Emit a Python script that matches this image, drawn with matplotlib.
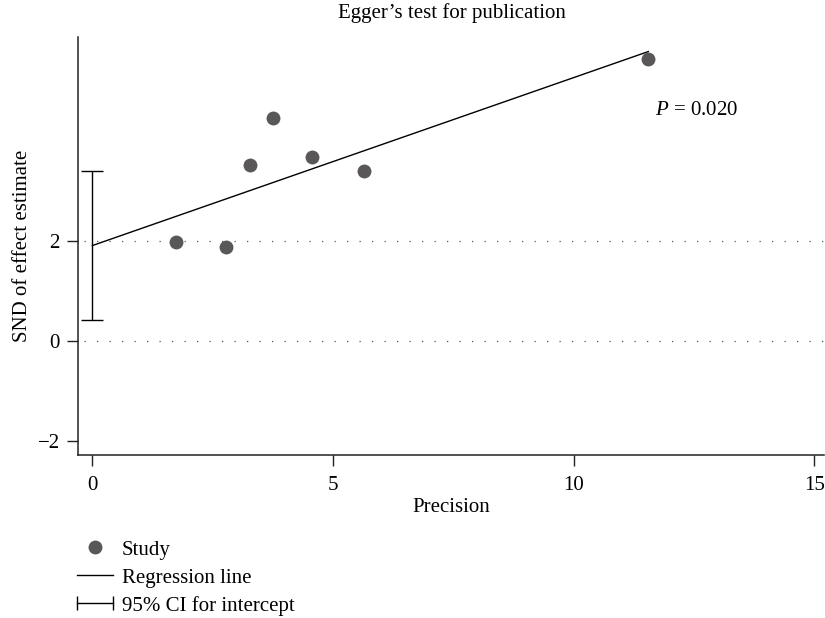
import numpy as np
import matplotlib
matplotlib.use("Agg")
import matplotlib.pyplot as plt
from matplotlib.lines import Line2D
from matplotlib.legend_handler import HandlerLine2D

plt.rcParams['font.family'] = ['Liberation Serif', 'DejaVu Serif']
plt.rcParams['mathtext.fontset'] = 'custom'
plt.rcParams['mathtext.it'] = 'Liberation Serif:italic'
plt.rcParams['mathtext.rm'] = 'Liberation Serif'

# Data
precision = [1.73, 2.77, 3.28, 3.75, 4.57, 5.65, 11.55]
snd = [1.99, 1.88, 3.53, 4.47, 3.69, 3.41, 5.65]
ci_low, ci_high = 0.43, 3.40
p_text = "0.020"
xticks = [0, 5, 10, 15]
yticks = [-2, 0, 2]

fig = plt.figure(figsize=(8.25, 6.18), dpi=100)
ax = fig.add_axes([78/825, 1-455/618, (824-78)/825, (455-37)/618])

x = np.array(precision)
y = np.array(snd)
slope, intercept = np.polyfit(x, y, 1)

dot_col = '#5a5758'
fs = 15

# reference lines
for yy in [0, 2]:
    ax.axhline(yy, color='#555555', lw=0.9, linestyle=(5.2, (1, 9)), zorder=1)

# regression line from 0 to max precision
xl = np.array([0, x.max()])
ax.plot(xl, intercept + slope * xl, color='black', lw=1.0, zorder=2)

# CI for intercept
mid = (ci_low + ci_high) / 2
ax.errorbar([0], [mid], yerr=[[mid - ci_low], [ci_high - mid]],
            fmt='none', ecolor='black', elinewidth=1.0, capsize=8, capthick=1.0, zorder=2)

# points
ax.plot(x, y, 'o', color=dot_col, markersize=10, zorder=3, markeredgewidth=0)

ax.set_xlim(-0.3, 15.2)
ax.set_ylim(-2.27, 6.09)
ax.set_xticks(xticks)
ax.set_yticks(yticks)
ax.set_yticklabels(['\u22122', '0', '2'])
for s in ['top', 'right']:
    ax.spines[s].set_visible(False)
for s in ['left', 'bottom']:
    ax.spines[s].set_linewidth(1.1)
    ax.spines[s].set_color('#222222')
ax.tick_params(axis='both', direction='out', length=8, width=1.0, color='#222222', labelsize=fs, pad=5)
ax.tick_params(axis='x', pad=7)

ax.set_xlabel('Precision', fontsize=fs, labelpad=2)
ax.set_ylabel('SND of effect estimate', fontsize=fs, labelpad=4)

ax.text(11.69, 4.61, r'$\mathit{P}$' + ' = ' + p_text, fontsize=fs, va='center', ha='left')

fig.text(452/825, 1-13/618, 'Egger\u2019s test for publication', fontsize=fs, ha='center', va='center')

# legend
h_study = Line2D([], [], linestyle='none', marker='o', color=dot_col, markersize=10, markeredgewidth=0)
h_reg = Line2D([], [], color='black', lw=1.0)
h_ci = Line2D([], [], color='black', lw=1.0, marker='|', markersize=10, markeredgewidth=1.0)
leg = fig.legend([h_study, h_reg, h_ci], ['Study', 'Regression line', '95% CI for intercept'],
                 loc='upper left', bbox_to_anchor=(77/825, 1-540/618), frameon=False, fontsize=fs,
                 handlelength=1.73, handletextpad=0.43, labelspacing=0.4, borderaxespad=0, borderpad=0,
                 handler_map={h_study: HandlerLine2D(numpoints=1, marker_pad=0),
                              h_reg: HandlerLine2D(numpoints=2, marker_pad=0),
                              h_ci: HandlerLine2D(numpoints=2, marker_pad=0)})

fig.savefig('out.png', dpi=100)
